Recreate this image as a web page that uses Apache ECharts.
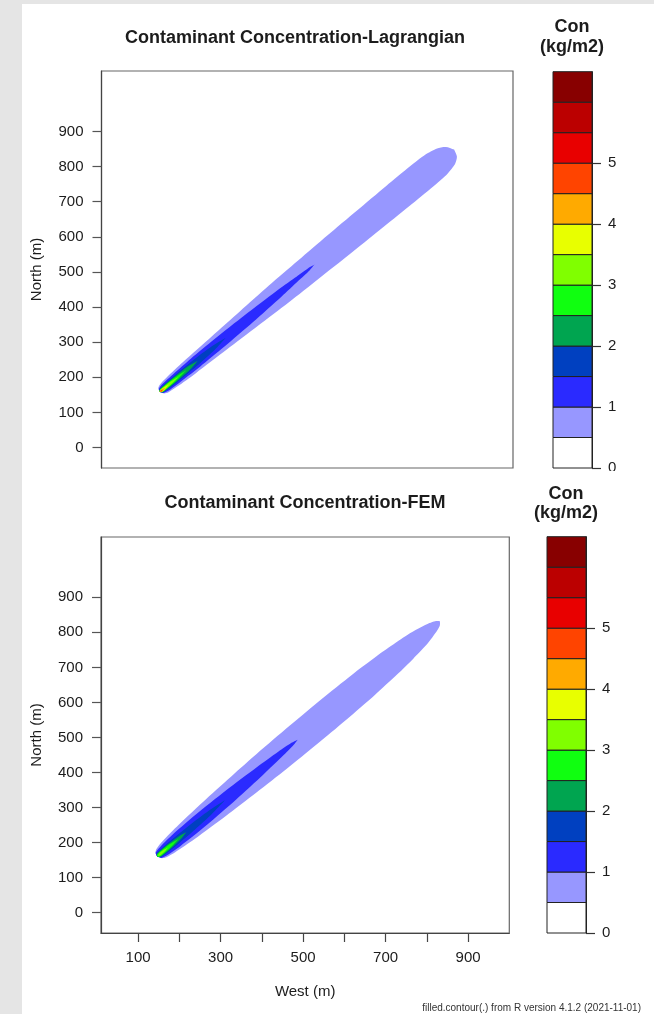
<!DOCTYPE html>
<html>
<head>
<meta charset="utf-8">
<script src="https://cdn.jsdelivr.net/npm/echarts@6/dist/echarts.min.js"></script>
<style>
  html, body { margin: 0; padding: 0; width: 654px; height: 1014px; background: #e5e5e5; overflow: hidden; }
  #sheet { position: absolute; left: 22px; top: 4px; right: 0; bottom: 0; background: #fff; }
  #chart { position: absolute; left: 0; top: 0; width: 654px; height: 1014px; }
</style>
</head>
<body>
<div id="sheet"></div>
<div id="chart"></div>
<script>
// contour levels of the colour key and their fills (kg/m2)
var levels = [0, 0.5, 1, 1.5, 2, 2.5, 3, 3.5, 4, 4.5, 5, 5.5, 6, 6.5]
var levelColors = ['#ffffff', '#9797ff', '#2a2aff', '#0040c0', '#00a550', '#10ff10',
  '#80ff00', '#e8ff00', '#ffaa00', '#ff4400', '#e80000', '#bb0000', '#880000']
var keyTicks = [0, 1, 2, 3, 4, 5]
var northTicks = [0, 100, 200, 300, 400, 500, 600, 700, 800, 900]
var westTicks = [100, 200, 300, 400, 500, 600, 700, 800, 900]
var westLabels = [100, 300, 500, 700, 900]

// plume axis: source tip and far end [West, North]
var lagStart = [150, 158]
var lagEnd = [858, 848]
var femStart = [146, 160]
var femEnd = [830, 830]

// contour bands: [distance along plume axis (m), half width (m)]
var lag05 = [[0, 0], [5, 10], [15, 15], [40, 18], [100, 22], [200, 26], [300, 30], [400, 34], [500, 36],
  [600, 38], [700, 39], [800, 40], [880, 40], [930, 38], [962, 31], [980, 19], [989, 0]]
var lag10 = [[0, 0], [5, 8], [20, 12], [60, 14], [120, 16], [200, 16], [300, 14], [400, 10], [460, 6], [500, 3.5], [520, 0]]
var lag15 = [[0, 0], [5, 6], [20, 8], [60, 9], [120, 9], [180, 6], [222, 0]]
var lag20 = [[0, 0], [5, 5], [20, 6.5], [60, 6.5], [100, 5], [128, 0]]
var lag25 = [[0, 0], [5, 4.5], [20, 5], [50, 4.5], [90, 0]]
var lag30 = [[0, 0], [4, 3.5], [15, 4], [40, 3], [62, 0]]
var lag35 = [[0, 0], [4, 3], [12, 3], [32, 0]]
var lag40 = [[0, 0], [4, 2.5], [10, 2.5], [20, 0]]
var lag45 = [[2, 0], [5, 2], [10, 0]]

var fem05 = [[0, 0], [5, 11], [15, 17], [40, 22], [100, 28], [200, 34], [300, 38], [400, 41], [500, 42],
  [600, 42], [700, 40], [780, 36], [840, 31], [885, 26], [915, 20], [938, 14], [952, 8], [960, 0]]
var fem10 = [[0, 0], [5, 10], [20, 14], [60, 18], [150, 20], [250, 18], [350, 13], [420, 8], [460, 4], [477, 0]]
var fem15 = [[0, 0], [5, 7], [20, 9], [60, 10], [120, 9], [180, 6], [230, 0]]
var fem20 = [[0, 0], [5, 5.5], [20, 7], [50, 6.5], [80, 4], [99, 0]]
var fem25 = [[0, 0], [5, 4.5], [20, 5], [45, 4], [72, 0]]
var fem30 = [[3, 0], [10, 3], [25, 2.5], [37, 0]]

var lagBands = [lag05, lag10, lag15, lag20, lag25, lag30, lag35, lag40, lag45]
var femBands = [fem05, fem10, fem15, fem20, fem25, fem30]

var myChart = echarts.init(document.getElementById('chart'))
var font = '"Liberation Sans", Arial, sans-serif'
var ink = '#1c1c1c'

function plumeSeries (bands, start, end, idx) {
  var dx = end[0] - start[0]
  var dy = end[1] - start[1]
  var len = Math.sqrt(dx * dx + dy * dy)
  var ux = dx / len
  var uy = dy / len
  return {
    type: 'custom',
    xAxisIndex: idx,
    yAxisIndex: idx,
    clip: true,
    data: bands.map(function (b, i) { return [i] }),
    renderItem: function (params, api) {
      var band = bands[params.dataIndex]
      var upper = []
      var lower = []
      band.forEach(function (p) {
        var cx = start[0] + ux * p[0]
        var cy = start[1] + uy * p[0]
        upper.push(api.coord([cx - uy * p[1], cy + ux * p[1]]))
        lower.unshift(api.coord([cx + uy * p[1], cy - ux * p[1]]))
      })
      return {
        type: 'polygon',
        shape: { points: upper.concat(lower), smooth: 0.25 },
        style: { fill: levelColors[params.dataIndex + 1] }
      }
    }
  }
}

function keySeries (idx) {
  return {
    type: 'custom',
    xAxisIndex: idx,
    yAxisIndex: idx,
    data: levelColors.map(function (c, i) { return [i] }),
    renderItem: function (params, api) {
      var i = params.dataIndex
      var p0 = api.coord([0, levels[i]])
      var p1 = api.coord([1, levels[i + 1]])
      return {
        type: 'rect',
        shape: { x: p0[0], y: p1[1], width: p1[0] - p0[0], height: p0[1] - p1[1] },
        style: { fill: levelColors[i], stroke: '#222', lineWidth: 1 }
      }
    }
  }
}

function plotX (idx, show) {
  return {
    gridIndex: idx,
    type: 'value',
    min: 10,
    max: 1000,
    name: show ? 'West (m)' : '',
    nameLocation: 'middle',
    nameGap: 51,
    nameTextStyle: { fontFamily: font, fontSize: 15, color: ink },
    axisLine: { show: show, onZero: false, lineStyle: { color: '#444', width: 1.2 } },
    axisTick: { show: show, customValues: westTicks, length: 9, lineStyle: { color: '#444', width: 1.2 } },
    axisLabel: { show: show, customValues: westLabels, margin: 17, fontFamily: font, fontSize: 15, color: ink },
    splitLine: { show: false }
  }
}

function plotY (idx) {
  return {
    gridIndex: idx,
    type: 'value',
    min: -58,
    max: 1072,
    name: 'North (m)',
    nameLocation: 'middle',
    nameGap: 57,
    nameRotate: 90,
    nameTextStyle: { fontFamily: font, fontSize: 15, color: ink },
    axisLine: { show: true, onZero: false, lineStyle: { color: '#444', width: 1.2 } },
    axisTick: { customValues: northTicks, length: 9, lineStyle: { color: '#555', width: 1.2 } },
    axisLabel: { customValues: northTicks, margin: 18, fontFamily: font, fontSize: 15, color: ink },
    splitLine: { show: false }
  }
}

function keyX (idx) {
  return { gridIndex: idx, type: 'value', min: 0, max: 1, show: false }
}

function keyY (idx) {
  return {
    gridIndex: idx,
    type: 'value',
    position: 'right',
    min: 0,
    max: 6.5,
    axisLine: { show: true, onZero: false, lineStyle: { color: '#222', width: 1 } },
    axisTick: { show: true, customValues: keyTicks, length: 9, lineStyle: { color: '#333', width: 1.2 } },
    axisLabel: { customValues: keyTicks, margin: 16, fontFamily: font, fontSize: 15, color: ink },
    splitLine: { show: false }
  }
}

function label (text, x, y, size, bold) {
  return {
    type: 'text',
    x: x,
    y: y,
    style: {
      text: text,
      font: (bold ? 'bold ' : '') + size + 'px ' + font,
      fill: ink,
      align: 'center',
      verticalAlign: 'middle',
      textAlign: 'center',
      textVerticalAlign: 'middle'
    }
  }
}

var option = {
  animation: false,
  grid: [
    { left: 101.5, top: 71, width: 411.5, height: 397, show: true, borderColor: '#666', borderWidth: 1.2 },
    { left: 553, top: 71.7, width: 39, height: 396.3 },
    { left: 101, top: 537, width: 408.3, height: 396, show: true, borderColor: '#666', borderWidth: 1.2 },
    { left: 547, top: 536.7, width: 39, height: 396.3 }
  ],
  xAxis: [plotX(0, false), keyX(1), plotX(2, true), keyX(3)],
  yAxis: [plotY(0), keyY(1), plotY(2), keyY(3)],
  graphic: [
    label('Contaminant Concentration-Lagrangian', 295, 38, 18, true),
    label('Con', 572, 27, 18, true),
    label('(kg/m2)', 572, 47, 18, true),
    label('Contaminant Concentration-FEM', 305, 503, 18, true),
    label('Con', 566, 494, 18, true),
    label('(kg/m2)', 566, 513, 18, true),
    {
      type: 'text',
      x: 641,
      y: 1008,
      style: {
        text: 'filled.contour(.) from R version 4.1.2 (2021-11-01)',
        font: '10px ' + font,
        fill: '#333',
        align: 'right',
        verticalAlign: 'middle',
        textAlign: 'right',
        textVerticalAlign: 'middle'
      }
    },
    // the lower panel's sheet clips the upper key's "0"
    { type: 'rect', z: 100, shape: { x: 598, y: 471, width: 40, height: 10 }, style: { fill: '#fff' } }
  ],
  series: [
    plumeSeries(lagBands, lagStart, lagEnd, 0),
    keySeries(1),
    plumeSeries(femBands, femStart, femEnd, 2),
    keySeries(3)
  ]
}
myChart.setOption(option)
</script>
</body>
</html>
